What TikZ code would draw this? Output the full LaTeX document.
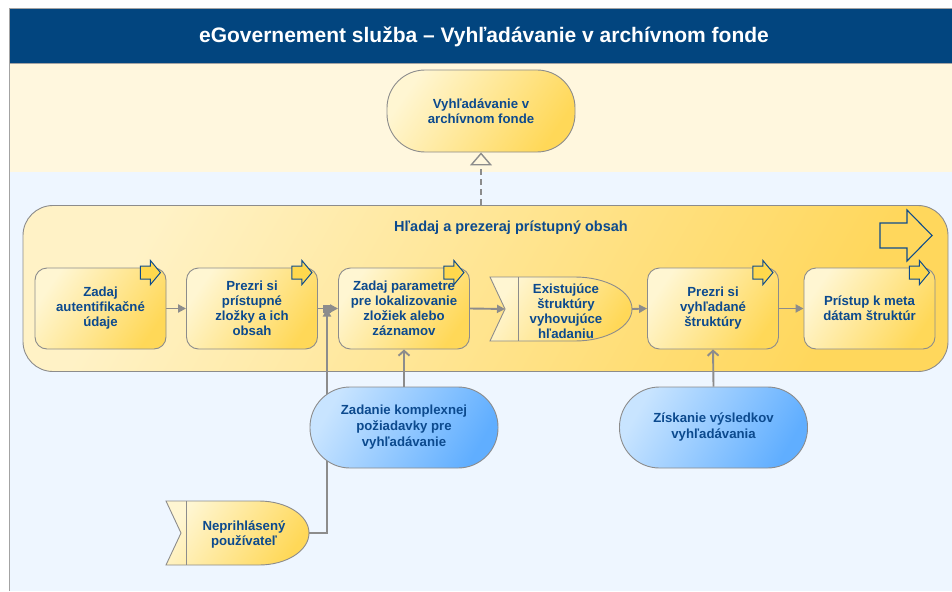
\documentclass[tikz,border=0pt]{standalone}
\usepackage{fontspec}
\setmainfont{Liberation Sans}
\usetikzlibrary{calc,arrows.meta}
\pgfdeclarelayer{back}
\pgfdeclarelayer{mid}
\pgfsetlayers{back,mid,main}
\definecolor{hdr}{HTML}{02457F}
\definecolor{txt}{HTML}{0C4A8E}
\definecolor{ylane}{HTML}{FFF7DE}
\definecolor{blane}{HTML}{EEF6FF}
\definecolor{yl}{HTML}{FFF6D2}
\definecolor{yd}{HTML}{FFD858}
\definecolor{cl}{HTML}{FFF2C6}
\definecolor{cd}{HTML}{FFD75C}
\definecolor{bl}{HTML}{C8E4FF}
\definecolor{bd}{HTML}{60AEFF}
\definecolor{edge}{HTML}{8C8C8C}
\definecolor{iconc}{HTML}{0E4C8C}
\definecolor{iconf}{HTML}{FFD84D}
\newcommand\smallicon[1]{%
  \draw[iconstyle] ($(#1.north east)+(-26,-1.5)$) -- ++(10,0) -- ++(0,-5.5)
    -- ++(10,12) -- ++(-10,12) -- ++(0,-5.5) -- ++(-10,0) -- cycle;}
\begin{document}
\begin{tikzpicture}[x=1pt,y=-1pt,
  every node/.style={text=txt, align=center, font=\bfseries\fontsize{13.2}{15}\selectfont},
  frame/.style={draw=edge!80, line width=0.8pt},
  titlestyle/.style={text=white, font=\bfseries\fontsize{21}{24}\selectfont},
  ctitlestyle/.style={font=\bfseries\fontsize{14.5}{17}\selectfont},
  cont/.style={draw=edge, line width=0.9pt, rounded corners=30pt, left color=cl, right color=cd, shading angle=60, minimum width=925pt, minimum height=166pt, inner sep=0pt},
  ybox/.style={draw=edge, line width=0.9pt, rounded corners=12pt, left color=yl, right color=yd, shading angle=55, minimum width=131pt, minimum height=81pt, inner sep=1pt},
  ytop/.style={draw=edge, line width=0.9pt, rounded corners=38pt, left color=yl, right color=yd, shading angle=55, minimum width=188pt, minimum height=82pt, inner sep=1pt},
  bnode/.style={draw=edge, line width=0.9pt, rounded corners=40pt, left color=bl, right color=bd, shading angle=60, minimum width=188pt, minimum height=81pt, inner sep=1pt, font=\bfseries\fontsize{13.2}{16}\selectfont},
  evshape/.style={draw=edge, line width=0.9pt, left color=yl, right color=yd, shading angle=55},
  iconstyle/.style={draw=iconc, line width=1pt, fill=iconf, line join=miter},
  bigicon/.style={draw=iconc, line width=1.1pt, line join=miter},
  flow/.style={draw=edge, line width=1.9pt, -{Triangle[length=8pt,width=8pt]}},
  flowopen/.style={draw=edge, line width=1.9pt, -{Straight Barb[length=5pt,width=11pt]}},
  dashflow/.style={draw=edge, line width=1.9pt, dash pattern=on 6pt off 4pt, -{Triangle[open,length=13pt,width=22pt,line width=1.4pt]}}
]
\useasboundingbox (0,0) rectangle (952,591);
\begin{pgfonlayer}{back}
  \fill[white] (0,0) rectangle (952,591);
  \fill[hdr] (9,8) rectangle (952,63);
  \fill[ylane] (9,63) rectangle (952,172);
  \fill[blane] (9,172) rectangle (952,591);
  \draw[frame] (9,591) -- (9,8) -- (952,8);
  \draw[frame] (9,63) -- (952,63);
  \node[cont] (cont) at (485.5,288.5) {};
\end{pgfonlayer}

% title
\node[titlestyle] (title) at (484,37) {eGovernement služba – Vyhľadávanie v archívnom fonde};
\node[ctitlestyle] (ct) at (511,228) {Hľadaj a prezeraj prístupný obsah};

% big arrow icon
\draw[bigicon] (880,223) -- (907,223) -- (907,210) -- (932,235.5) -- (907,261) -- (907,248) -- (880,248) -- cycle;

% top node
\node[ytop] (top) at (481,111) {Vyhľadávanie v\\archívnom fonde};

% boxes
\node[ybox] (b1) at (100.5,308.5) {Zadaj\\autentifikačné\\údaje};
\node[ybox] (b2) at (252,308.5) {Prezri si\\prístupné\\zložky a ich\\obsah};
\node[ybox] (b3) at (404,308.5) {Zadaj parametre\\pre lokalizovanie\\zložiek alebo\\záznamov};
\node[ybox] (b4) at (713,308.5) {Prezri si\\vyhľadané\\štruktúry};
\node[ybox] (b5) at (869.5,308.5) {Prístup k meta\\dátam štruktúr};
\smallicon{b1}
\smallicon{b2}
\smallicon{b3}
\smallicon{b4}
\smallicon{b5}

% event: Existujuce struktury
\draw[evshape] (490,277) -- (575,277) arc[start angle=-90, end angle=90, x radius=57, y radius=32]
  -- (490,341) -- (505,309) -- cycle;
\draw[draw=edge, line width=0.9pt] (518,277) -- (518,341);
\node (e1) at (566,311) {Existujúce\\štruktúry\\vyhovujúce\\hľadaniu};
\coordinate (e1in) at (505,309);
\coordinate (e1out) at (632,309);

% blue nodes
\node[bnode] (q1) at (404,427.5) {Zadanie komplexnej\\požiadavky pre\\vyhľadávanie};
\node[bnode] (q2) at (713.5,427.5) {Získanie výsledkov\\vyhľadávania};

% event: Neprihlaseny pouzivatel
\draw[evshape] (166,501) -- (259,501) arc[start angle=-90, end angle=90, x radius=50, y radius=32]
  -- (166,565) -- (181,533) -- cycle;
\draw[draw=edge, line width=0.9pt] (186,501) -- (186,565);
\node (n1) at (244,535) {Neprihlásený\\používateľ};
\coordinate (n1e) at (309,533);

\coordinate (jn) at ($(b2.east)!0.45!(b3.west)$);

\begin{pgfonlayer}{mid}
  \draw[flow] (b1.east) -- (b2.west);
  \draw[flow] (b2.east) -- (b3.west);
  \draw[flow] (b3.east) -- (e1in);
  \draw[flow] (e1out) -- (b4.west);
  \draw[flow] (b4.east) -- (b5.west);
  \draw[flow] (n1e) -| (jn);
  \fill[edge] ($(jn)+(-4,-4)$) rectangle ($(jn)+(4,4)$);
  \draw[flowopen] (q1.north) -- (b3.south);
  \draw[flowopen] (q2.north) -- (b4.south);
  \draw[dashflow] (top.south |- cont.north) -- (top.south);
\end{pgfonlayer}
\end{tikzpicture}
\end{document}
